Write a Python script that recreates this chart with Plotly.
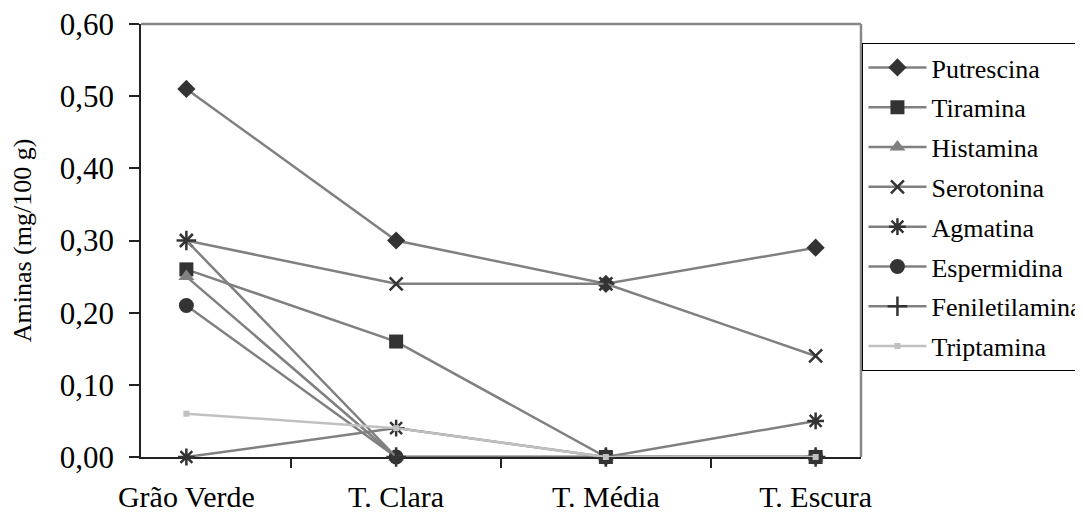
import plotly.graph_objects as go

categories = ["Grão Verde", "T. Clara", "T. Média", "T. Escura"]

putrescina = [0.51, 0.30, 0.24, 0.29]
tiramina = [0.26, 0.16, 0.00, 0.00]
histamina = [0.25, 0.00, 0.00, 0.00]
serotonina = [0.30, 0.24, 0.24, 0.14]
agmatina = [0.00, 0.04, 0.00, 0.05]
espermidina = [0.21, 0.00, 0.00, 0.00]
feniletilamina = [0.30, 0.00, 0.00, 0.00]
triptamina = [0.06, 0.04, 0.00, 0.00]

y_ticks = [0.0, 0.1, 0.2, 0.3, 0.4, 0.5, 0.6]

FONT = "'Liberation Serif', 'Times New Roman', Times, serif"
LINE_GRAY = "#808080"
DARK = "#333333"

series = [
    ("Putrescina", putrescina, dict(symbol="diamond", size=14, color=DARK), LINE_GRAY),
    ("Tiramina", tiramina, dict(symbol="square", size=14, color=DARK), LINE_GRAY),
    ("Histamina", histamina, dict(symbol="triangle-up", size=14, color="#808080"), LINE_GRAY),
    ("Serotonina", serotonina, dict(symbol="x-thin-open", size=13, color=DARK,
                                    line=dict(color=DARK, width=2.5)), LINE_GRAY),
    ("Agmatina", agmatina, dict(symbol="asterisk-open", size=14, color=DARK,
                                line=dict(color=DARK, width=2.5)), LINE_GRAY),
    ("Espermidina", espermidina, dict(symbol="circle", size=15, color=DARK), LINE_GRAY),
    ("Feniletilamina", feniletilamina, dict(symbol="cross-thin-open", size=14, color=DARK,
                                            line=dict(color=DARK, width=2.5)), LINE_GRAY),
    ("Triptamina", triptamina, dict(symbol="square", size=6, color="#c0c0c0"), "#c0c0c0"),
]

fig = go.Figure()
for name, vals, marker, lc in series:
    fig.add_trace(go.Scatter(
        x=categories, y=vals, name=name, mode="lines+markers", legendgroup=name,
        line=dict(color=lc, width=2.5), marker=marker, cliponaxis=False,
    ))

# page body adds an 8px margin, so the figure is 8px smaller and offset
fig.update_layout(
    template="none",
    width=1075, height=511,
    margin=dict(l=133, r=222, t=16, b=62, autoexpand=False),
    paper_bgcolor="white", plot_bgcolor="white",
    separators=",.",
    font=dict(family=FONT, color="black"),
    showlegend=True,
    legend=dict(
        x=1.002, xanchor="left", y=0.956, yanchor="top",
        bgcolor="white", bordercolor="black", borderwidth=1,
        font=dict(family=FONT, size=26, color="black"),
        tracegroupgap=3, itemwidth=58,
    ),
    shapes=[
        dict(type="line", xref="paper", yref="paper", x0=0, x1=1, y0=1, y1=1,
             line=dict(color="#888888", width=2.5)),
        dict(type="line", xref="paper", yref="paper", x0=1, x1=1, y0=0, y1=1,
             line=dict(color="#888888", width=2.5)),
    ],
)

fig.update_xaxes(
    type="category", categoryorder="array", categoryarray=categories,
    automargin=False, ticklabeloverflow="allow",
    showline=True, linecolor="#222222", linewidth=1.5,
    ticks="outside", tickson="boundaries", ticklen=9, tickcolor="#222222", tickwidth=1.5,
    showgrid=False, zeroline=False, layer="below traces",
    tickfont=dict(family=FONT, size=30, color="black"),
    ticklabelstandoff=12,
)

fig.update_yaxes(
    range=[0, 0.6], tickvals=y_ticks, tickformat=".2f",
    automargin=False, ticklabeloverflow="allow",
    showline=True, linecolor="#222222", linewidth=1.5,
    ticks="outside", ticklen=10, tickcolor="#222222", tickwidth=1.5,
    showgrid=False, zeroline=False, layer="below traces",
    tickfont=dict(family=FONT, size=31, color="black"),
    ticklabelstandoff=9,
    title=dict(text="Aminas (mg/100 g)", font=dict(family=FONT, size=26, color="black"),
               standoff=22),
)

fig.write_html("out.html")
